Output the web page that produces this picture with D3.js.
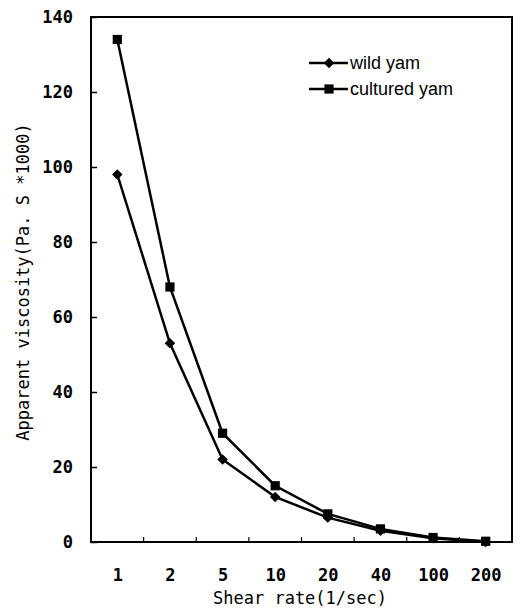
<!DOCTYPE html>
<html><head><meta charset="utf-8">
<script src="https://cdn.jsdelivr.net/npm/d3@7"></script>
<style>body{margin:0;background:#fff}</style>
</head><body>
<svg id="c" width="520" height="612"></svg>
<script>
const categories = ["1","2","5","10","20","40","100","200"];
const wildYam = [98, 53, 22, 12, 6.5, 3, 1, 0];
const culturedYam = [134, 68, 29, 15, 7.5, 3.5, 1.2, 0.2];
const yTicks = [0,20,40,60,80,100,120,140];
const seriesNames = ["wild yam","cultured yam"];

const svg = d3.select("#c");
const m = {l:91, r:512, t:17, b:542};
const x = d3.scalePoint().domain(categories).range([m.l, m.r]).padding(0.5);
const xb = d3.scaleBand().domain(categories).range([m.l, m.r]);
const y = d3.scaleLinear().domain([0,140]).range([m.b, m.t]);

svg.append("rect").attr("x",m.l).attr("y",m.t).attr("width",m.r-m.l).attr("height",m.b-m.t)
  .attr("fill","none").attr("stroke","#000").attr("stroke-width",2);

const ya = svg.append("g").attr("transform",`translate(${m.l},0)`)
  .call(d3.axisLeft(y).tickValues(yTicks).tickSize(-6).tickPadding(18));
ya.select(".domain").remove();
ya.selectAll("line").attr("stroke","#000").attr("stroke-width",1.5);
ya.selectAll("text").attr("font-family","DejaVu Sans Mono").attr("font-weight","bold")
  .attr("font-size",17).attr("fill","#000");

const xa = svg.append("g").attr("transform",`translate(0,${m.b})`)
  .call(d3.axisBottom(x).tickSize(0).tickPadding(27));
xa.select(".domain").remove();
xa.selectAll("text").attr("font-family","DejaVu Sans Mono").attr("font-weight","bold")
  .attr("font-size",17).attr("fill","#000");
svg.append("g").selectAll("line").data(categories.slice(1)).join("line")
  .attr("x1",d=>xb(d)).attr("x2",d=>xb(d)).attr("y1",m.b).attr("y2",m.b-5)
  .attr("stroke","#000").attr("stroke-width",1.2);

svg.append("text").attr("x",300).attr("y",604).attr("text-anchor","middle")
  .attr("font-family","DejaVu Sans Mono").attr("font-size",17).text("Shear rate(1/sec)");
svg.append("text").attr("transform",`translate(29,282) rotate(-90)`)
  .attr("text-anchor","middle").attr("font-family","DejaVu Sans Mono").attr("font-size",17)
  .text("Apparent viscosity(Pa. S *1000)");

const line = d3.line().x((d,i)=>x(categories[i])).y(d=>y(d));
const diamond = d3.symbol().type(d3.symbolSquare).size(55);
const square = d3.symbol().type(d3.symbolSquare).size(85);
const series = [{name:seriesNames[0], v:wildYam, sym:diamond, rot:45},{name:seriesNames[1], v:culturedYam, sym:square, rot:0}];

series.forEach(s=>{
  svg.append("path").datum(s.v).attr("d",line).attr("fill","none")
    .attr("stroke","#000").attr("stroke-width",2.5);
  svg.append("g").selectAll("path").data(s.v).join("path")
    .attr("d",s.sym()).attr("transform",(d,i)=>`translate(${x(categories[i])},${y(d)}) rotate(${s.rot})`)
    .attr("fill","#000");
});

series.forEach((s,i)=>{
  const ly = 63 + i*26;
  svg.append("line").attr("x1",309).attr("x2",348).attr("y1",ly).attr("y2",ly)
    .attr("stroke","#000").attr("stroke-width",2.5);
  svg.append("path").attr("d",s.sym()).attr("transform",`translate(329,${ly}) rotate(${s.rot})`).attr("fill","#000");
  svg.append("text").attr("x",350).attr("y",ly+6).attr("font-family","Liberation Sans")
    .attr("font-size",18).text(s.name);
});
</script>
</body></html>
